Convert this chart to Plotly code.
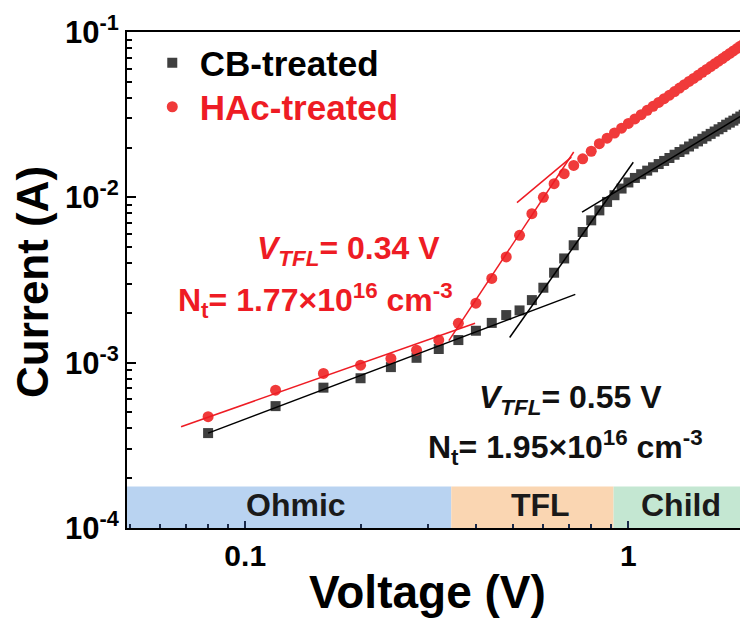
import plotly.graph_objects as go
import math

# ---------------- data ----------------
voltage = [0.08, 0.12, 0.16, 0.20, 0.24, 0.28, 0.32, 0.36, 0.40, 0.44, 0.48, 0.52,
           0.56, 0.60, 0.64, 0.68, 0.72, 0.76, 0.80, 0.84, 0.88, 0.92, 0.96, 1.00,
           1.04, 1.08, 1.12, 1.16, 1.20, 1.24, 1.28, 1.32, 1.36, 1.40, 1.44, 1.48,
           1.52, 1.56, 1.60, 1.64, 1.68, 1.72, 1.76, 1.80, 1.84, 1.88, 1.92, 1.96, 2.00]

cb_current = [3.75e-4, 5.46e-4, 7.06e-4, 8.05e-4, 9.40e-4, 1.07e-3, 1.21e-3, 1.37e-3,
              1.56e-3, 1.74e-3, 1.94e-3, 2.07e-3, 2.39e-3, 2.84e-3, 3.50e-3, 4.27e-3,
              5.13e-3, 6.17e-3, 7.26e-3, 8.34e-3, 9.38e-3, 1.03e-2, 1.13e-2, 1.23e-2,
              1.31e-2, 1.38e-2, 1.45e-2, 1.52e-2, 1.59e-2, 1.66e-2, 1.73e-2, 1.81e-2,
              1.88e-2, 1.95e-2, 2.03e-2, 2.11e-2, 2.18e-2, 2.26e-2, 2.34e-2, 2.42e-2,
              2.50e-2, 2.58e-2, 2.66e-2, 2.75e-2, 2.83e-2, 2.91e-2, 2.99e-2, 3.08e-2, 3.16e-2]

hac_current = [4.71e-4, 6.82e-4, 8.61e-4, 9.66e-4, 1.06e-3, 1.19e-3, 1.37e-3, 1.73e-3,
               2.29e-3, 3.23e-3, 4.36e-3, 5.89e-3, 7.96e-3, 1.00e-2, 1.21e-2, 1.39e-2,
               1.56e-2, 1.71e-2, 1.90e-2, 2.11e-2, 2.28e-2, 2.45e-2, 2.62e-2, 2.80e-2,
               2.98e-2, 3.16e-2, 3.36e-2, 3.55e-2, 3.75e-2, 3.95e-2, 4.15e-2, 4.36e-2,
               4.58e-2, 4.80e-2, 5.02e-2, 5.24e-2, 5.47e-2, 5.70e-2, 5.94e-2, 6.18e-2,
               6.42e-2, 6.66e-2, 6.91e-2, 7.17e-2, 7.42e-2, 7.68e-2, 7.94e-2, 8.21e-2, 8.48e-2]

# fit lines (endpoints)
cb_ohmic_v, cb_ohmic_i = [0.08, 0.727], [3.75e-4, 2.59e-3]
cb_tfl_v, cb_tfl_i = [0.49, 1.03], [1.42e-3, 1.63e-2]
cb_child_v, cb_child_i = [0.757, 2.0], [8.15e-3, 3.17e-2]
hac_ohmic_v, hac_ohmic_i = [0.068, 0.398], [4.1e-4, 1.73e-3]
hac_tfl_v, hac_tfl_i = [0.34, 0.72], [1.36e-3, 1.88e-2]
hac_child_v, hac_child_i = [0.512, 0.71], [9.29e-3, 1.75e-2]

# regions
region_names = ["Ohmic", "TFL", "Child"]
region_edges = [0.04, 0.345, 0.915, 2.5]
region_colors = ["#b9d3f1", "#fad6b2", "#c4e7d2"]
region_top = 1.78e-4
region_label_x = [0.136, 0.59, 1.37]

x_tickvals = [0.1, 1]
x_ticktext = ["0.1", "1"]
y_tickvals = [1e-4, 1e-3, 1e-2, 1e-1]
y_ticktext = ["10<sup>-4</sup>", "10<sup>-3</sup>", "10<sup>-2</sup>", "10<sup>-1</sup>"]

RED = "#ee1c24"
RED_MK = "#f03a3a"
GRAY_MK = "#3f3f3f"
FONT = "Liberation Sans"

W, H = 740, 621
L, R, T, B = 127, 0, 32, 93
pw, ph = W - L - R, H - T - B


def px(xp):
    return (xp - L) / pw


def py(yp):
    return (H - B - yp) / ph


fig = go.Figure()

fig.add_trace(go.Scatter(x=voltage, y=cb_current, mode="markers", name="CB-treated",
                         legend="legend",
                         marker=dict(symbol="square", size=10, color=GRAY_MK)))
fig.add_trace(go.Scatter(x=voltage, y=hac_current, mode="markers",
                         name=f"<span style='color:{RED}'>HAc-treated</span>",
                         legend="legend2",
                         marker=dict(symbol="circle", size=11, color=RED_MK)))

for vx, iy, col in [(cb_ohmic_v, cb_ohmic_i, "black"), (cb_tfl_v, cb_tfl_i, "black"),
                    (cb_child_v, cb_child_i, "black"),
                    (hac_ohmic_v, hac_ohmic_i, RED), (hac_tfl_v, hac_tfl_i, RED),
                    (hac_child_v, hac_child_i, RED)]:
    fig.add_trace(go.Scatter(x=vx, y=iy, mode="lines", showlegend=False,
                             line=dict(color=col, width=1.5)))

for i, nm in enumerate(region_names):
    fig.add_shape(type="rect", xref="x", yref="y",
                  x0=region_edges[i], x1=region_edges[i + 1], y0=1e-4, y1=region_top,
                  fillcolor=region_colors[i], line=dict(width=0), layer="below")
    fig.add_annotation(x=math.log10(region_label_x[i]), y=math.log10(1.37e-4),
                       xref="x", yref="y", text=f"<b>{nm}</b>", showarrow=False,
                       xanchor="center", yanchor="middle",
                       font=dict(family=FONT, size=32, color="#1a1a1a"))

texts = [
    (348, 250, f"<i>V</i><sub><i>TFL</i></sub>= 0.34 V", RED),
    (315, 300, "N<sub>t</sub>= 1.77×10<sup>16</sup> cm<sup>-3</sup>", RED),
    (570, 399, f"<i>V</i><sub><i>TFL</i></sub>= 0.55 V", "#111111"),
    (565, 447, "N<sub>t</sub>= 1.95×10<sup>16</sup> cm<sup>-3</sup>", "#111111"),
]
for xp, yp, t, c in texts:
    fig.add_annotation(x=px(xp), y=py(yp), xref="paper", yref="paper",
                       xanchor="center", yanchor="middle",
                       text=f"<b>{t}</b>", showarrow=False,
                       font=dict(family=FONT, size=32, color=c))

# axis titles
fig.add_annotation(x=px(32), y=py(282), xref="paper", yref="paper",
                   xanchor="center", yanchor="middle", textangle=-90,
                   text="<b>Current (A)</b>", showarrow=False,
                   font=dict(family=FONT, size=44, color="black"))
fig.add_annotation(x=px(427), y=0, xref="paper", yref="paper",
                   xanchor="center", yanchor="bottom", yshift=-(621 - 528) + 1,
                   text="<b>Voltage (V)</b>", showarrow=False,
                   font=dict(family=FONT, size=46, color="black"))

leg_common = dict(xanchor="left", yanchor="middle", bgcolor="rgba(0,0,0,0)",
                  itemwidth=45,
                  font=dict(family=FONT, size=35, color="black", weight="bold"))

fig.update_layout(
    width=W, height=H,
    margin=dict(l=L, r=R, t=T, b=B, pad=0),
    plot_bgcolor="white", paper_bgcolor="white",
    font=dict(family=FONT, color="black"),
    showlegend=True,
    legend=dict(x=0.029, y=py(63), **leg_common),
    legend2=dict(x=0.029, y=py(107), **leg_common),
)

fig.update_xaxes(type="log", range=[-1.3086, 0.2914],
                 tickvals=x_tickvals, ticktext=x_ticktext,
                 ticks="inside", ticklen=7, tickwidth=1.5, tickcolor="#1a2a4a",
                 showline=True, linecolor="black", linewidth=2, mirror=True,
                 showgrid=False, zeroline=False,
                 tickfont=dict(family=FONT, size=30, weight="bold"),
                 minor=dict(ticks="inside", ticklen=4, tickwidth=1.5, dtick="D1",
                            tickcolor="#1a2a4a", showgrid=False))
fig.update_yaxes(type="log", range=[-4, -1],
                 tickvals=y_tickvals, ticktext=y_ticktext,
                 ticks="inside", ticklen=9, tickwidth=2, tickcolor="black",
                 showline=True, linecolor="black", linewidth=2, mirror=False,
                 showgrid=False, zeroline=False,
                 tickfont=dict(family=FONT, size=31, weight="bold"),
                 minor=dict(ticks="inside", ticklen=5, tickwidth=1.5, dtick="D1",
                            tickcolor="black", showgrid=False))

fig.write_html("out.html")
